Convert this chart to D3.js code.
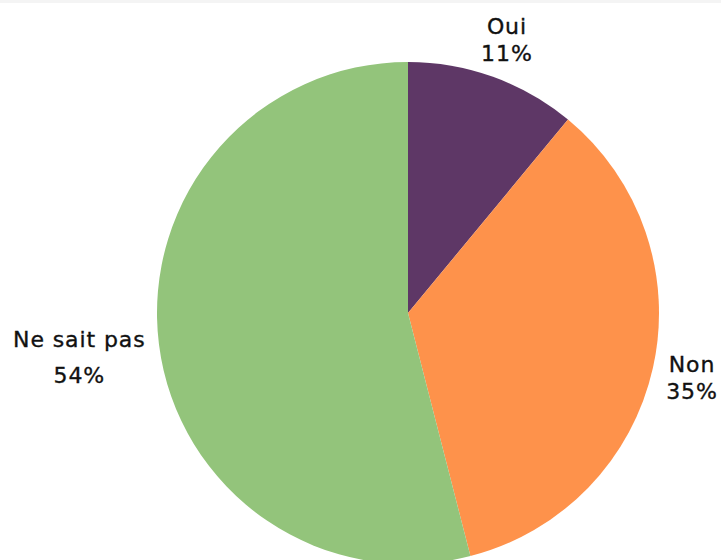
<!DOCTYPE html>
<html lang="fr">
<head>
  <meta charset="utf-8" />
  <script src="https://d3js.org/d3.v7.min.js"></script>
  <style>
    html, body { margin: 0; padding: 0; background: #fff; overflow: hidden; }
    .topbar { position: absolute; left: 0; top: 0; width: 721px; height: 3px; background: #f4f4f4; }
    .lbl { font-family: "DejaVu Sans", sans-serif; font-size: 22px; letter-spacing: 0.9px; fill: #111; stroke: #111; stroke-width: 0.35px; }
  </style>
</head>
<body>
<div class="topbar"></div>
<script>
  var categories = ["Oui", "Non", "Ne sait pas"];
  var values = [11, 35, 54];
  var colors = ["#5e3766", "#fe924b", "#93c47b"];

  var width = 721, height = 560;
  var cx = 408, cy = 313, radius = 251;

  // label nudges (layout only)
  var nudge = [[0, 0], [-1, 0], [-39, 2]];

  var svg = d3.select("body").append("svg")
    .attr("width", width)
    .attr("height", height)
    .style("position", "absolute")
    .style("left", 0)
    .style("top", 0);

  var pie = d3.pie().sort(null).value(function(d) { return d; });
  var arcs = pie(values);

  var arc = d3.arc().innerRadius(0).outerRadius(radius);
  var labelArc = d3.arc().innerRadius(292).outerRadius(292);

  var g = svg.append("g").attr("transform", "translate(" + cx + "," + cy + ")");

  g.selectAll("path.slice")
    .data(arcs)
    .enter().append("path")
    .attr("class", "slice")
    .attr("d", arc)
    .attr("fill", function(d, i) { return colors[i]; });

  var labels = g.selectAll("text.lbl")
    .data(arcs)
    .enter().append("text")
    .attr("class", "lbl")
    .attr("text-anchor", "middle")
    .attr("transform", function(d, i) {
      var c = labelArc.centroid(d);
      return "translate(" + (c[0] + nudge[i][0]) + "," + (c[1] + nudge[i][1]) + ")";
    });

  labels.append("tspan")
    .attr("x", 0)
    .attr("dy", "-0.2em")
    .text(function(d, i) { return categories[i]; });

  labels.append("tspan")
    .attr("x", 0)
    .attr("dy", function(d, i) { return i === 2 ? "1.64em" : "1.22em"; })
    .text(function(d, i) { return values[i] + "%"; });
</script>
</body>
</html>
